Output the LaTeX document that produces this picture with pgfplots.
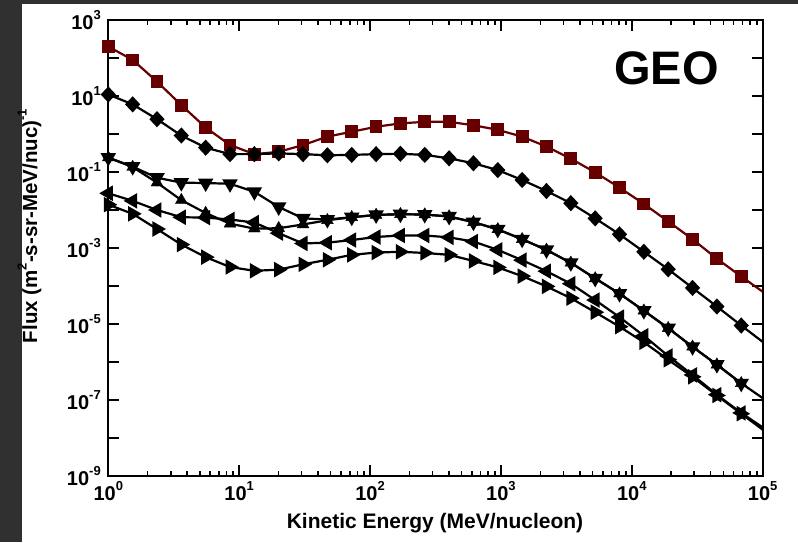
\documentclass[border=0pt]{standalone}
\usepackage{fontspec}
\setmainfont{Liberation Sans}
\usepackage{pgfplots}
\usepackage{pgfplotstable}
\pgfplotsset{compat=1.18}
\definecolor{geored}{RGB}{102,0,0}
\definecolor{frame}{RGB}{48,48,48}
\newcommand{\tl}[1]{10\raisebox{0.5em}{\fontsize{13}{13}\selectfont #1}}
\newcommand{\sups}[1]{\raisebox{0.5em}{\fontsize{13}{13}\selectfont #1}}

\pgfplotstableread{
x      R       D        V         U         L         T
1      200     10.96    0.2399    0.2399    0.02754   0.01380
1.535  89.13   6.026    0.1380    0.1349    0.01738   7.943e-3
2.355  23.99   2.455    0.07079   0.05248   0.01000   3.162e-3
3.614  5.754   0.9120   0.05248   0.01820   6.457e-3  1.230e-3
5.546  1.479   0.4365   0.05129   8.318e-3  6.310e-3  5.754e-4
8.511  0.5129  0.2951   0.04898   4.365e-3  5.623e-3  3.162e-4
13.06  0.2951  0.2951   0.03020   3.236e-3  4.677e-3  2.512e-4
20.04  0.3388  0.3090   0.01202   3.311e-3  2.455e-3  2.692e-4
30.76  0.5129  0.2951   6.026e-3  4.169e-3  1.318e-3  3.715e-4
47.21  0.8511  0.2754   5.623e-3  5.370e-3  1.380e-3  4.898e-4
72.44  1.148   0.2818   6.457e-3  6.457e-3  1.622e-3  6.607e-4
111.2  1.549   0.2951   7.413e-3  7.413e-3  1.950e-3  7.586e-4
170.6  1.905   0.3020   7.762e-3  7.762e-3  2.138e-3  7.943e-4
261.8  2.089   0.2818   7.586e-3  7.586e-3  2.138e-3  7.413e-4
401.8  2.089   0.2291   6.761e-3  6.761e-3  1.905e-3  6.607e-4
616.6  1.698   0.1698   4.786e-3  4.786e-3  1.479e-3  4.571e-4
946.2  1.288   0.1122   3.090e-3  3.090e-3  8.913e-4  3.090e-4
1452   0.8511  0.06166  1.698e-3  1.698e-3  4.786e-4  1.820e-4
2228   0.4677  0.03162  8.913e-4  8.913e-4  2.455e-4  9.772e-5
3420   0.2239  0.01514  4.074e-4  4.074e-4  1.148e-4  4.786e-5
5248   0.09772 6.026e-3 1.585e-4  1.585e-4  4.266e-5  2.042e-5
8054   0.03890 2.291e-3 6.310e-5  6.310e-5  1.514e-5  8.511e-6
12359  0.01445 7.943e-4 2.239e-5  2.239e-5  4.898e-6  3.311e-6
18967  5.012e-3 2.754e-4 7.762e-6 7.762e-6  1.445e-6  1.148e-6
29107  1.698e-3 8.913e-5 2.512e-6 2.512e-6  4.571e-7  4.074e-7
44668  5.248e-4 2.884e-5 8.511e-7 8.511e-7  1.380e-7  1.318e-7
68549  1.778e-4 9.120e-6 2.754e-7 2.754e-7  4.571e-8  4.365e-8
}\data

\pgfplotsset{
  ser/.style={black, line width=2.2pt, mark options={solid, fill=black, line width=0.4pt}},
  tail/.style={black, line width=2.2pt, mark=none},
}

\begin{document}
\begin{tikzpicture}
\useasboundingbox (0,0) rectangle (798pt,542pt);
\fill[white] (0,0) rectangle (798pt,542pt);
\fill[frame] (0,0) rectangle (22pt,542pt);
\fill[frame] (0,538pt) rectangle (798pt,542pt);
\begin{axis}[
  at={(108.3pt,66pt)}, anchor=south west,
  scale only axis, width=654.4pt, height=456pt,
  xmode=log, ymode=log,
  xmin=1, xmax=1e5, ymin=1e-9, ymax=1e3,
  axis line style={line width=2pt},
  every tick/.style={black, line width=1.6pt},
  tick align=inside,
  major tick length=11pt, minor tick length=5.5pt,
  xtick={1,10,100,1000,10000,100000},
  xticklabels={\tl{0},\tl{1},\tl{2},\tl{3},\tl{4},\tl{5}},
  xminorticks=true,
  ytick={1e-9,1e-8,1e-7,1e-6,1e-5,1e-4,1e-3,1e-2,1e-1,1,10,100,1000},
  yticklabels={\tl{-9},,\tl{-7},,\tl{-5},,\tl{-3},,\tl{-1},,\tl{1},,\tl{3}},
  yminorticks=false,
  xticklabel pos=left, yticklabel pos=left,
  tick label style={font=\bfseries\fontsize{20}{20}\selectfont},
  xticklabel style={yshift=-2pt},
  yticklabel style={xshift=-4pt},
]
\addplot[ser, geored, mark=square*, mark size=5.3pt, mark options={fill=geored}] table[x=x,y=R]{\data};
\addplot[tail, geored] coordinates {(68549,1.778e-4) (100000,7.079e-5)};
\addplot[ser, mark=diamond*, mark size=6.5pt, mark options={xscale=1.25}] table[x=x,y=D]{\data};
\addplot[tail] coordinates {(68549,9.120e-6) (100000,3.388e-6)};
\addplot[ser, mark=triangle*, mark size=6.8pt, mark options={rotate=180}] table[x=x,y=V]{\data};
\addplot[ser, mark=triangle*, mark size=6.8pt] table[x=x,y=U]{\data};
\addplot[tail] coordinates {(68549,2.754e-7) (100000,1.122e-7)};
\addplot[ser, mark=triangle*, mark size=6.8pt, mark options={rotate=90}] table[x=x,y=L]{\data};
\addplot[tail] coordinates {(68549,4.571e-8) (100000,1.905e-8)};
\addplot[ser, mark=triangle*, mark size=6.8pt, mark options={rotate=-90}] table[x=x,y=T]{\data};
\addplot[tail] coordinates {(68549,4.365e-8) (100000,1.660e-8)};
\end{axis}
\node[anchor=base west, font=\bfseries\fontsize{47}{47}\selectfont, inner sep=0pt] at (614pt,457pt) {GEO};
\node[anchor=base, font=\bfseries\fontsize{21}{21}\selectfont, inner sep=0pt] at (435pt,14pt) {Kinetic Energy (MeV/nucleon)};
\node[anchor=base, rotate=90, font=\bfseries\fontsize{20.5}{20.5}\selectfont, inner sep=0pt] at (37pt,316pt) {Flux (m\sups{2}-s-sr-MeV/nuc)\sups{-1}};
\end{tikzpicture}
\end{document}
